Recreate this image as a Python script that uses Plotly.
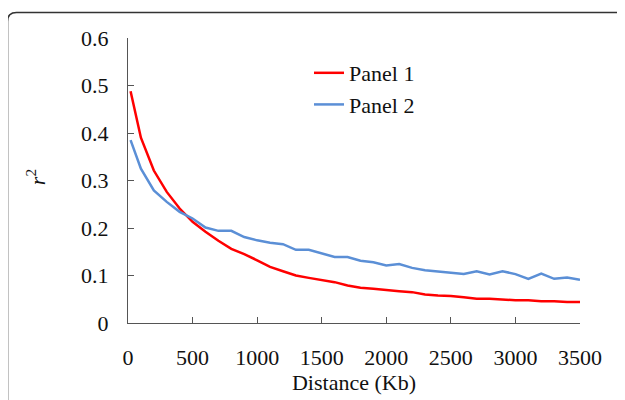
import plotly.graph_objects as go

distance = [20, 100, 200, 300, 400, 500, 600, 700, 800, 900, 1000, 1100, 1200, 1300,
            1400, 1500, 1600, 1700, 1800, 1900, 2000, 2100, 2200, 2300, 2400, 2500,
            2600, 2700, 2800, 2900, 3000, 3100, 3200, 3300, 3400, 3500]
panel1 = [0.488, 0.390, 0.321, 0.276, 0.241, 0.213, 0.192, 0.173, 0.156, 0.145, 0.132,
          0.118, 0.109, 0.100, 0.095, 0.091, 0.086, 0.079, 0.074, 0.072, 0.069, 0.067,
          0.065, 0.060, 0.058, 0.057, 0.054, 0.051, 0.051, 0.049, 0.048, 0.048, 0.046,
          0.046, 0.044, 0.044]
panel2 = [0.385, 0.325, 0.279, 0.255, 0.234, 0.220, 0.201, 0.194, 0.194, 0.181, 0.174,
          0.169, 0.166, 0.154, 0.154, 0.147, 0.139, 0.139, 0.131, 0.128, 0.121, 0.124,
          0.116, 0.111, 0.108, 0.106, 0.103, 0.109, 0.102, 0.109, 0.103, 0.093, 0.104,
          0.093, 0.096, 0.091]
x_ticks = [0, 500, 1000, 1500, 2000, 2500, 3000, 3500]
y_ticks = [0, 0.1, 0.2, 0.3, 0.4, 0.5, 0.6]
y_tick_labels = ["0", "0.1", "0.2", "0.3", "0.4", "0.5", "0.6"]

# page body has an 8px default margin; work in screen pixels and compensate
OFF = 8
W, H = 617, 392
L, R, T, B = 128 - OFF, 625 - 580, 38 - OFF, 400 - 322.7
pw, ph = W - L - R, H - T - B

def px(x):
    return (x - OFF - L) / pw

def py(y):
    return (H - B - (y - OFF)) / ph

font = dict(family="Liberation Serif", size=22, color="#111111")

fig = go.Figure()
fig.add_trace(go.Scatter(x=distance, y=panel1, mode="lines", name="Panel 1",
                         line=dict(color="#FF0000", width=2.5)))
fig.add_trace(go.Scatter(x=distance, y=panel2, mode="lines", name="Panel 2",
                         line=dict(color="#5B8FD6", width=2.5)))

# rounded frame
lft, top, rgt, bot, r = 7.5, 12.5, 624.5, 420, 9
rx, ry = r / pw, r / ph
path = (f"M {px(lft)},{py(bot)} L {px(lft)},{py(top) - ry} "
        f"Q {px(lft)},{py(top)} {px(lft) + rx},{py(top)} "
        f"L {px(rgt) - rx},{py(top)} Q {px(rgt)},{py(top)} {px(rgt)},{py(top) - ry} "
        f"L {px(rgt)},{py(bot)}")
fig.add_shape(type="path", path=path, xref="paper", yref="paper",
              line=dict(color="#333333", width=1.6), layer="above")

fig.add_annotation(text="<i>r</i><sup>2</sup>", x=px(36), y=py(177), xref="paper",
                   yref="paper", showarrow=False, textangle=-90, font=font,
                   xanchor="center", yanchor="middle")

fig.update_layout(
    width=W, height=H,
    margin=dict(l=L, r=R, t=T, b=B, autoexpand=False),
    paper_bgcolor="white", plot_bgcolor="white",
    font=font,
    showlegend=True,
    legend=dict(x=px(309), y=py(52), xanchor="left", yanchor="top",
                bgcolor="rgba(0,0,0,0)", font=font, tracegroupgap=0,
                itemwidth=30),
    xaxis=dict(range=[0, 3500], tickvals=x_ticks, ticks="inside", ticklen=6,
               tickcolor="#555555", showline=True, linecolor="#555555", linewidth=1.3,
               showgrid=False, zeroline=False, tickfont=font, ticklabelstandoff=14,
               automargin=False,
               title=dict(text="Distance (Kb)", font=font, standoff=5)),
    yaxis=dict(range=[0, 0.6], tickvals=y_ticks, ticktext=y_tick_labels, ticks="inside",
               ticklen=6, tickcolor="#555555", showline=True, linecolor="#555555",
               linewidth=1.3, showgrid=False, zeroline=False, tickfont=font,
               ticklabelstandoff=14, automargin=False),
)

fig.write_html("out.html")
